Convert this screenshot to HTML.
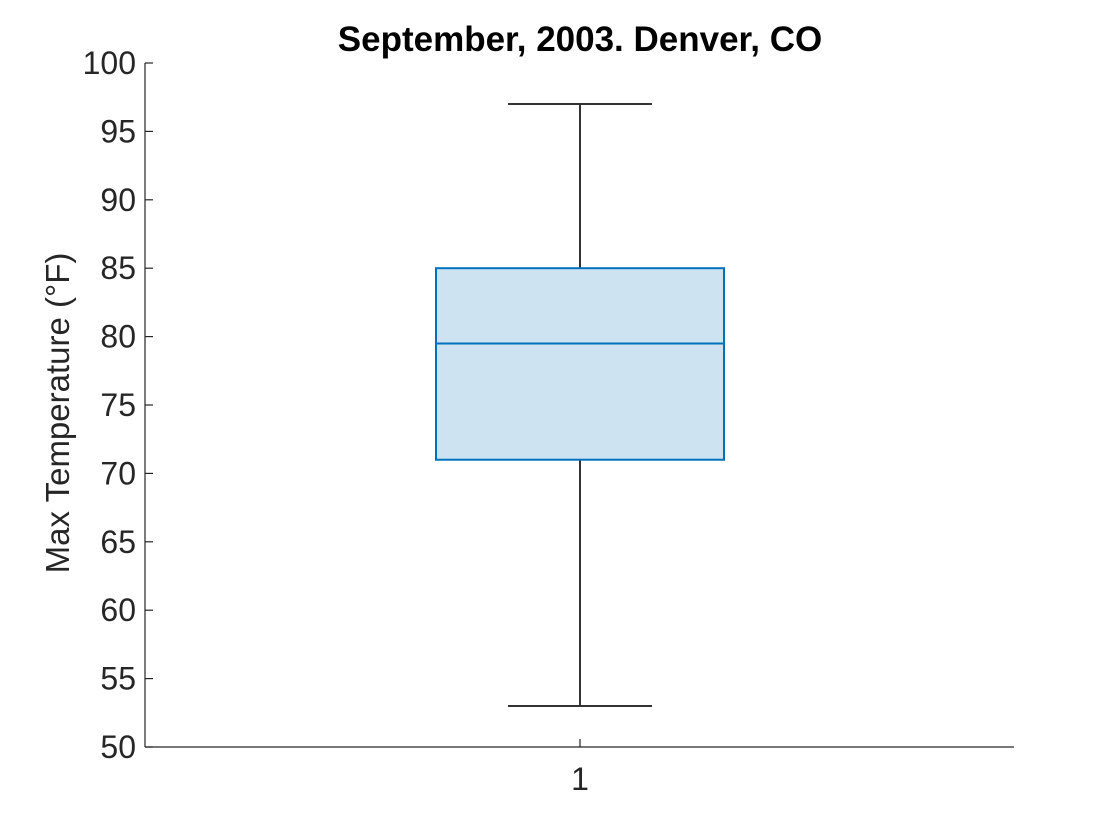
<!DOCTYPE html>
<html><head><meta charset="utf-8"><style>
html,body{margin:0;padding:0;background:#fff;}
svg{display:block;font-family:"Liberation Sans",Arial,sans-serif;}
</style></head><body>
<svg id="chart" width="1120" height="840" viewBox="0 0 1120 840" xmlns="http://www.w3.org/2000/svg">
<text x="580" y="51" text-anchor="middle" font-size="35" font-weight="bold" fill="#000">September, 2003. Denver, CO</text>
<text transform="translate(69,413) rotate(-90)" text-anchor="middle" font-size="33" fill="#262626">Max Temperature (°F)</text>
<g id="axes"></g>
<g id="box"></g>
</svg>
<script>
const yTicks = [50,55,60,65,70,75,80,85,90,95,100];
const categories = ["1"];
const whiskerLow = [53];
const q1 = [71];
const median = [79.5];
const q3 = [85];
const whiskerHigh = [97];

const NS = "http://www.w3.org/2000/svg";
const X0 = 145, X1 = 1014, Y0 = 747, Y1 = 63;
function yScale(v){ return Y0 - (v - 50) / (100 - 50) * (Y0 - Y1); }
function xScale(i){ return X0 + (i + 0.5) / categories.length * (X1 - X0) + (580 - (X0 + X1) / 2); }
function mk(tag, attrs, parent){ const e = document.createElementNS(NS, tag); for (const k in attrs) e.setAttribute(k, attrs[k]); parent.appendChild(e); return e; }

const axes = document.getElementById('axes');
const yAxis = mk('line', {x1:X0, y1:Y1, x2:X0, y2:Y0, stroke:'#262626', 'stroke-width':1.2}, axes);


const xAxis = mk('line', {x1:X0, y1:Y0, x2:X1, y2:Y0, stroke:'#262626', 'stroke-width':1.2}, axes);


yTicks.forEach(t => {
  const y = yScale(t);
  const tk = mk('line', {x1:X0, y1:y, x2:X0+8, y2:y, stroke:'#262626', 'stroke-width':1.2}, axes);
  
  
  const lb = mk('text', {x:X0-9, y:y+11, 'text-anchor':'end', 'font-size':32, fill:'#262626'}, axes);
  lb.textContent = t;
  
  
});
categories.forEach((c, i) => {
  const x = xScale(i);
  const tk = mk('line', {x1:x, y1:Y0, x2:x, y2:Y0-8, stroke:'#262626', 'stroke-width':1.2}, axes);
  
  
  const lb = mk('text', {x:x, y:Y0+43, 'text-anchor':'middle', 'font-size':32, fill:'#262626'}, axes);
  lb.textContent = c;
  
  

  const g = document.getElementById('box');
  const halfBox = 144, halfCap = 72;
  const wl = mk('line', {x1:x, y1:yScale(whiskerLow[i]), x2:x, y2:yScale(q1[i]), stroke:'#333', 'stroke-width':2}, g);
  
  
  const wh = mk('line', {x1:x, y1:yScale(whiskerHigh[i]), x2:x, y2:yScale(q3[i]), stroke:'#333', 'stroke-width':2}, g);
  
  
  const cl = mk('line', {x1:x-halfCap, y1:yScale(whiskerLow[i]), x2:x+halfCap, y2:yScale(whiskerLow[i]), stroke:'#333', 'stroke-width':2}, g);
  
  
  const ch = mk('line', {x1:x-halfCap, y1:yScale(whiskerHigh[i]), x2:x+halfCap, y2:yScale(whiskerHigh[i]), stroke:'#333', 'stroke-width':2}, g);
  
  
  const bx = mk('rect', {x:x-halfBox, y:yScale(q3[i]), width:2*halfBox, height:yScale(q1[i])-yScale(q3[i]), fill:'#cde3f1', stroke:'#0072bd', 'stroke-width':2}, g);
  
  
  const md = mk('line', {x1:x-halfBox, y1:yScale(median[i]), x2:x+halfBox, y2:yScale(median[i]), stroke:'#0072bd', 'stroke-width':2}, g);
  
  
});
</script>
</body></html>
